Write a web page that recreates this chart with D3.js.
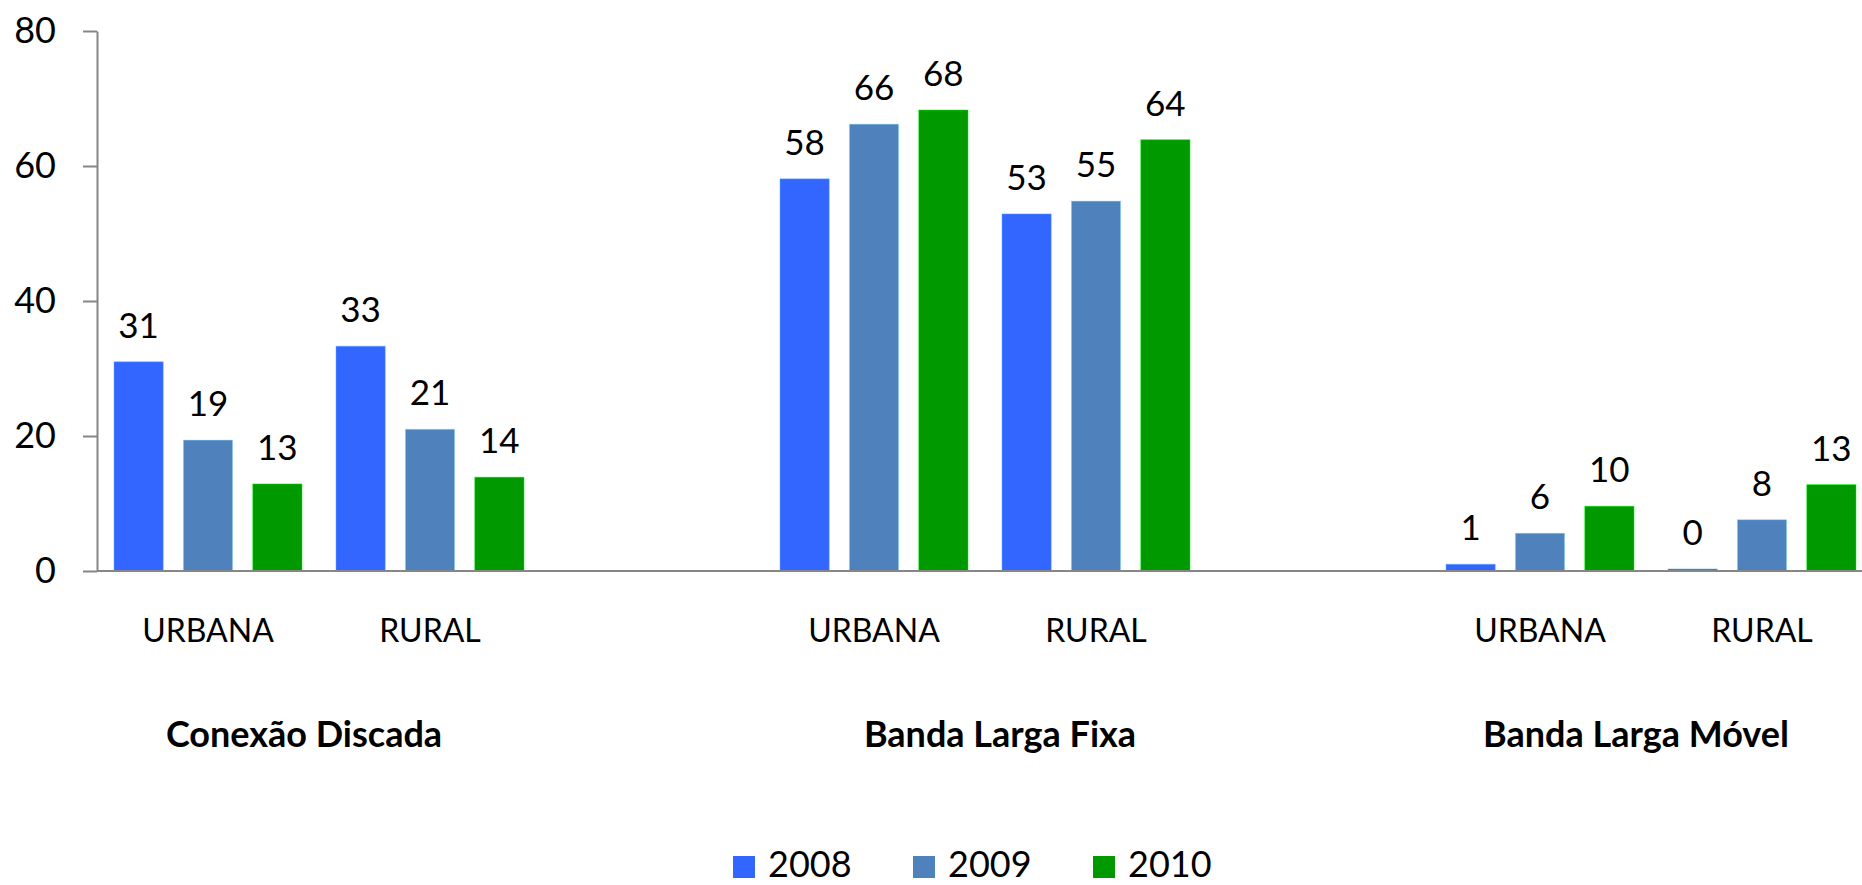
<!DOCTYPE html>
<html>
<head>
<meta charset="utf-8">
<script src="https://cdn.jsdelivr.net/npm/d3@7"></script>
<style>
    body { margin: 0; background: #fff; }
    svg { display: block; font-family: Lato, 'Open Sans', sans-serif; }
</style>
</head>
<body>
<svg width="1862" height="885"></svg>
<script>
const GROUPS = ['Conexão Discada', 'Banda Larga Fixa', 'Banda Larga Móvel'];
const AREAS = ['URBANA', 'RURAL'];
const YEARS = ['2008', '2009', '2010'];
// one value per group/area: Discada U, Discada R, Fixa U, Fixa R, Móvel U, Móvel R
const VALUES_2008 = [31.0, 33.3, 58.1, 52.9, 1.0, 0.3];
const VALUES_2009 = [19.4, 21.0, 66.2, 54.8, 5.6, 7.6];
const VALUES_2010 = [12.9, 13.9, 68.3, 63.9, 9.6, 12.8];
const Y_TICKS = [0, 20, 40, 60, 80];
const COLORS = ['#3366ff', '#4f81bd', '#009900'];

const w = 1862;
const h = 885;
const left = 97;
const baseY = 571;
const topY = 31;

const svg = d3.select('svg');

// 2 areas + 1 empty slot per group, last group has no trailing slot
const slots = d3.range(GROUPS.length * 3 - 1);
const x0 = d3.scaleBand()
    .domain(slots)
    .range([left, left + slots.length * 222]);
const x1 = d3.scaleBand()
    .domain(YEARS)
    .range([0, x0.bandwidth()])
    .paddingInner(0.29)
    .paddingOuter(0.245);
const y = d3.scaleLinear()
    .domain([0, 80])
    .range([baseY, topY]);

const series = [VALUES_2008, VALUES_2009, VALUES_2010];
const bars = [];
GROUPS.forEach((g, gi) => {
    AREAS.forEach((a, ai) => {
        YEARS.forEach((yr, yi) => {
            bars.push({ slot: gi * 3 + ai, year: yr, value: series[yi][gi * 2 + ai], color: COLORS[yi] });
        });
    });
});

svg.append('g')
    .selectAll('rect')
    .data(bars)
    .enter()
    .append('rect')
    .attr('x', d => x0(d.slot) + x1(d.year))
    .attr('y', d => y(d.value))
    .attr('width', x1.bandwidth())
    .attr('height', d => y(0) - y(d.value))
    .attr('fill', d => d.color)
    .attr('stroke', d => d3.color(d.color).brighter(1.6))
    .attr('stroke-opacity', 0.45)
    .attr('stroke-width', 1);

svg.append('g')
    .selectAll('text')
    .data(bars)
    .enter()
    .append('text')
    .attr('x', d => x0(d.slot) + x1(d.year) + x1.bandwidth() / 2)
    .attr('y', d => y(d.value) - 24)
    .attr('text-anchor', 'middle')
    .style('font-size', '35px')
    .attr('fill', '#000')
    .text(d => Math.round(d.value));

// y axis
const yAxis = d3.axisLeft(y)
    .tickValues(Y_TICKS)
    .tickSize(14)
    .tickSizeOuter(0)
    .tickPadding(27);
const ya = svg.append('g')
    .attr('transform', `translate(${left}, 0)`)
    .call(yAxis);
ya.select('.domain').attr('stroke', '#868686').attr('stroke-width', 2);
ya.selectAll('.tick line').attr('stroke', '#868686').attr('stroke-width', 2);
ya.selectAll('.tick text')
    .attr('fill', '#000')
    .style('font-size', '36px')
    .style('font-family', 'Lato, sans-serif');

// x axis line
svg.append('line')
    .attr('x1', left)
    .attr('x2', w)
    .attr('y1', y(0))
    .attr('y2', y(0))
    .attr('stroke', '#868686')
    .attr('stroke-width', 2);

// category labels
const catLabels = [];
GROUPS.forEach((g, gi) => {
    AREAS.forEach((a, ai) => catLabels.push({ slot: gi * 3 + ai, text: a }));
});
svg.append('g')
    .selectAll('text')
    .data(catLabels)
    .enter()
    .append('text')
    .attr('x', d => x0(d.slot) + x0.bandwidth() / 2)
    .attr('y', 642)
    .attr('text-anchor', 'middle')
    .style('font-size', '32px')
    .text(d => d.text);

// group labels sit slightly off the pair centre, as in the original
svg.append('g')
    .selectAll('text')
    .data(GROUPS)
    .enter()
    .append('text')
    .attr('x', (d, i) => x0(i * 3) + x0.bandwidth() + (i % 2 ? 15 : -15))
    .attr('y', 747)
    .attr('text-anchor', 'middle')
    .style('font-size', '36px')
    .style('font-weight', 'bold')
    .text(d => d);

// legend
const legend = svg.append('g')
    .attr('transform', 'translate(733, 856)');
const item = legend.selectAll('g')
    .data(YEARS)
    .enter()
    .append('g')
    .attr('transform', (d, i) => `translate(${i * 180}, 0)`);
item.append('rect')
    .attr('width', 22)
    .attr('height', 22)
    .attr('fill', (d, i) => COLORS[i]);
item.append('text')
    .attr('x', 35)
    .attr('y', 21)
    .style('font-size', '36px')
    .text(d => d);
</script>
</body>
</html>
